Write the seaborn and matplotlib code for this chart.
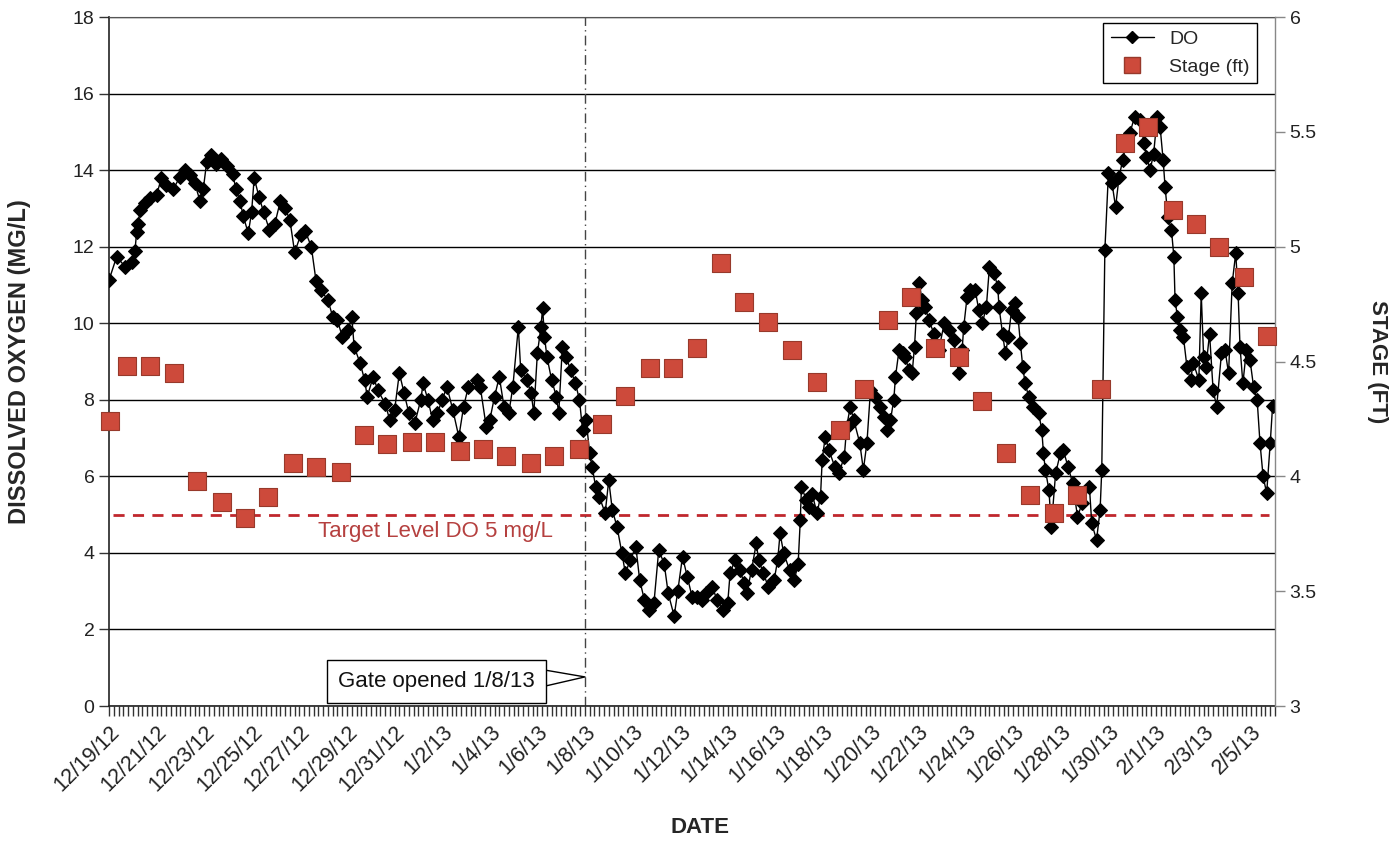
import numpy as np
import pandas as pd
import seaborn as sns
import matplotlib.pyplot as plt
import matplotlib.dates as mdates
from matplotlib.lines import Line2D
from matplotlib.ticker import FixedLocator, FuncFormatter

# Data (days after 12/19/12 00:00)
start = pd.Timestamp("2012-12-19")
end = pd.Timestamp("2013-02-06")
gate_date = pd.Timestamp("2013-01-08")
target_do = 5

do_day = [0.0, 0.32, 0.67, 0.95, 1.09, 1.16, 1.23, 1.3, 1.51, 1.72, 2.0, 2.2, 2.4, 2.7, 2.98,
          3.2, 3.4, 3.6, 3.82, 3.96, 4.1, 4.3, 4.5, 4.7, 4.94, 5.2, 5.33, 5.5, 5.64, 5.85,
          5.99, 6.1, 6.3, 6.5, 6.74, 6.97, 7.2, 7.4, 7.6, 7.8, 8.05, 8.25, 8.5, 8.7, 8.9,
          9.2, 9.4, 9.6, 9.8, 10.05, 10.2, 10.3, 10.55, 10.74, 10.85, 11.1, 11.3, 11.6, 11.8,
          12.0, 12.2, 12.4, 12.6, 12.85, 13.1, 13.2, 13.4, 13.6, 13.8, 14.0, 14.2, 14.45,
          14.7, 14.9, 15.1, 15.45, 15.6, 15.85, 16.0, 16.2, 16.4, 16.6, 16.8, 16.97, 17.2,
          17.3, 17.55, 17.74, 17.85, 18.0, 18.15, 18.22, 18.3, 18.4, 18.6, 18.8, 18.9, 19.05,
          19.2, 19.4, 19.6, 19.77, 19.9, 20.05, 20.2, 20.3, 20.45, 20.6, 20.85, 21.0, 21.15,
          21.35, 21.55, 21.7, 21.9, 22.14, 22.3, 22.5, 22.7, 22.9, 23.1, 23.33, 23.5, 23.75,
          23.9, 24.1, 24.3, 24.5, 24.7, 24.9, 25.1, 25.35, 25.55, 25.8, 26.0, 26.1, 26.3,
          26.5, 26.7, 26.8, 27.0, 27.2, 27.3, 27.5, 27.7, 27.95, 28.1, 28.2, 28.35, 28.6,
          28.8, 28.96, 29.05, 29.1, 29.3, 29.4, 29.55, 29.75, 29.9, 29.97, 30.1, 30.25, 30.5,
          30.67, 30.9, 31.0, 31.15, 31.3, 31.55, 31.7, 31.85, 32.0, 32.2, 32.4, 32.55, 32.7,
          32.84, 32.98, 33.05, 33.2, 33.35, 33.47, 33.6, 33.75, 33.85, 33.93, 34.05, 34.17,
          34.3, 34.45, 34.67, 34.87, 35.1, 35.3, 35.5, 35.7, 35.85, 35.92, 36.06, 36.2, 36.4,
          36.55, 36.7, 36.87, 37.0, 37.2, 37.35, 37.4, 37.55, 37.67, 37.8, 37.93, 38.07, 38.2,
          38.3, 38.4, 38.5, 38.65, 38.85, 39.07, 39.2, 39.27, 39.35, 39.5, 39.6, 39.78, 39.98,
          40.1, 40.3, 40.5, 40.7, 40.9, 41.2, 41.3, 41.5, 41.65, 41.72, 41.85, 42.0, 42.15,
          42.3, 42.45, 42.6, 42.75, 42.9, 43.1, 43.33, 43.5, 43.6, 43.75, 43.9, 44.05, 44.17,
          44.3, 44.38, 44.5, 44.65, 44.75, 44.8, 44.9, 45.0, 45.15, 45.3, 45.45, 45.57, 45.8,
          45.9, 46.0, 46.1, 46.25, 46.4, 46.55, 46.75, 46.9, 47.05, 47.2, 47.35, 47.45, 47.53,
          47.65, 47.8, 47.95, 48.1, 48.25, 48.37, 48.5, 48.65, 48.8, 48.9]

do_mgl = [11.13, 11.74, 11.48, 11.6, 11.9, 12.39, 12.6, 12.96, 13.14, 13.27, 13.35, 13.8, 13.6,
          13.5, 13.83, 14.0, 13.87, 13.66, 13.2, 13.5, 14.2, 14.4, 14.15, 14.3, 14.1, 13.9,
          13.5, 13.2, 12.8, 12.35, 12.9, 13.8, 13.3, 12.9, 12.44, 12.6, 13.2, 13.0, 12.7,
          11.85, 12.3, 12.4, 12.0, 11.1, 10.87, 10.6, 10.17, 10.08, 9.65, 9.82, 10.17, 9.39,
          8.96, 8.52, 8.08, 8.6, 8.25, 7.9, 7.47, 7.73, 8.7, 8.17, 7.65, 7.39, 8.0, 8.43, 8.0,
          7.47, 7.65, 8.0, 8.34, 7.73, 7.03, 7.82, 8.34, 8.52, 8.34, 7.3, 7.47, 8.08, 8.6,
          7.82, 7.65, 8.34, 9.9, 8.78, 8.52, 8.17, 7.65, 9.21, 9.9, 10.39, 9.65, 9.13, 8.52,
          8.08, 7.65, 9.39, 9.13, 8.78, 8.43, 8.0, 7.21, 7.47, 6.6, 6.25, 5.73, 5.47, 5.04,
          5.9, 5.12, 4.68, 4.0, 3.47, 3.81, 4.16, 3.29, 2.77, 2.5, 2.69, 4.07, 3.72, 2.94,
          2.35, 3.0, 3.9, 3.38, 2.86, 2.86, 2.77, 2.94, 3.12, 2.77, 2.5, 2.69, 3.47, 3.81,
          3.55, 3.21, 2.94, 3.55, 4.25, 3.81, 3.47, 3.12, 3.29, 3.81, 4.51, 4.0, 3.55, 3.29,
          3.72, 4.86, 5.73, 5.38, 5.21, 5.55, 5.03, 5.47, 6.43, 7.04, 6.69, 6.25, 6.08, 6.51,
          7.3, 7.82, 7.47, 6.87, 6.17, 6.87, 8.25, 8.08, 7.82, 7.56, 7.21, 7.47, 8.0, 8.6,
          9.3, 9.21, 9.13, 8.78, 8.69, 9.39, 10.26, 11.04, 10.6, 10.43, 10.08, 9.73, 9.3,
          10.0, 9.82, 9.56, 8.69, 9.3, 9.91, 10.69, 10.87, 10.87, 10.35, 10.0, 10.43, 11.48,
          11.3, 10.95, 10.43, 9.73, 9.21, 9.65, 10.35, 10.52, 10.17, 9.48, 8.86, 8.43, 8.08,
          7.82, 7.65, 7.21, 6.6, 6.17, 5.64, 4.68, 6.08, 6.6, 6.69, 6.25, 5.82, 4.95, 5.3,
          5.73, 4.77, 4.34, 5.12, 6.17, 11.91, 13.92, 13.66, 13.04, 13.83, 14.26, 14.7, 14.96,
          15.4, 15.3, 14.7, 14.35, 14.0, 14.43, 15.4, 15.14, 14.26, 13.57, 12.78, 12.43, 11.74,
          10.6, 10.17, 9.82, 9.65, 8.86, 8.52, 8.96, 8.52, 10.78, 9.13, 8.86, 9.73, 8.25,
          7.82, 9.21, 9.3, 8.69, 11.04, 11.83, 10.78, 9.39, 8.43, 9.3, 9.04, 8.34, 8.0, 6.87,
          6.0, 5.56, 6.87, 7.85]

stage_day = [0.04, 0.74, 1.72, 2.73, 3.70, 4.73, 5.70, 6.69, 7.73, 8.71, 9.73, 10.71, 11.69,
             12.73, 13.71, 14.73, 15.71, 16.69, 17.74, 18.72, 19.73, 20.70, 21.68, 22.73,
             23.71, 24.73, 25.70, 26.69, 27.71, 28.69, 29.74, 30.70, 31.72, 32.73, 33.71,
             34.73, 35.71, 36.69, 37.71, 38.69, 39.70, 40.70, 41.68, 42.70, 43.68, 44.70,
             45.68, 46.66, 47.70, 48.65]
stage_ft = [4.24, 4.48, 4.48, 4.45, 3.98, 3.89, 3.82, 3.91, 4.06, 4.04, 4.02, 4.18, 4.14,
            4.15, 4.15, 4.11, 4.12, 4.09, 4.06, 4.09, 4.12, 4.23, 4.35, 4.47, 4.47, 4.56,
            4.93, 4.76, 4.67, 4.55, 4.41, 4.20, 4.38, 4.68, 4.78, 4.56, 4.52, 4.33, 4.10,
            3.92, 3.84, 3.92, 4.38, 5.45, 5.52, 5.16, 5.10, 5.00, 4.87, 4.61]

do_df = pd.DataFrame({"date": start + pd.to_timedelta(do_day, unit="D"), "DO": do_mgl})
stage_df = pd.DataFrame({"date": start + pd.to_timedelta(stage_day, unit="D"), "stage": stage_ft})

sns.set_style("white")
plt.rcParams["font.family"] = ["Liberation Sans", "DejaVu Sans"]

fig = plt.figure(figsize=(13.91, 8.43), dpi=100)
ax = fig.add_axes([0.0784, 0.1625, 0.8382, 0.8173])
ax2 = ax.twinx()

# DO series (left axis)
sns.lineplot(data=do_df, x="date", y="DO", ax=ax, color="black", linewidth=1,
             marker="D", markersize=7.5, markeredgecolor="black", estimator=None,
             sort=False, legend=False, zorder=3)

# stage series (right axis)
sns.scatterplot(data=stage_df, x="date", y="stage", ax=ax2, marker="s", s=150,
                color="#CD4A3B", edgecolor="#97392B", linewidth=0.8, legend=False,
                zorder=4, clip_on=False)

ax.set_xlim(start, end)
ax.set_ylim(0, 18)
ax2.set_ylim(3, 6)

ax.set_yticks(np.arange(0, 19, 2))
ax2.set_yticks(np.arange(3, 6.01, 0.5))
ax2.yaxis.set_major_formatter(FuncFormatter(lambda v, p: f"{v:g}"))
ax.grid(axis="y", color="black", linewidth=1)
ax.grid(axis="x", visible=False)
ax2.grid(False)
ax.set_axisbelow(True)

# date ticks
major = pd.date_range("2012-12-19", "2013-02-05", freq="2D")
minor = pd.date_range(start, end, freq="288min")
ax.xaxis.set_major_locator(FixedLocator(mdates.date2num(major)))
ax.xaxis.set_minor_locator(FixedLocator(mdates.date2num(minor)))
ax.set_xticklabels([f"{d.month}/{d.day}/{d:%y}" for d in major], rotation=45,
                   ha="right", rotation_mode="anchor", fontsize=15.5, color="#222222")

ax.tick_params(axis="x", which="both", direction="out", length=7, width=1,
               color="#333333", bottom=True, pad=4)
ax.tick_params(axis="y", direction="out", length=7, width=1, color="#333333",
               left=True, labelsize=14, labelcolor="#222222")
ax2.tick_params(axis="y", direction="out", length=7, width=1, color="#888888",
                right=True, labelsize=14, labelcolor="#222222")

for s in ["left", "bottom"]:
    ax.spines[s].set_color("#222222")
    ax.spines[s].set_linewidth(1.2)
ax.spines["top"].set_color("#555555")
ax.spines["right"].set_visible(False)
for s in ["left", "bottom", "top"]:
    ax2.spines[s].set_visible(False)
ax2.spines["right"].set_color("#888888")
ax2.spines["right"].set_linewidth(1)

# target level and gate opening
ax.axhline(target_do, xmin=0.003, xmax=0.995, color="#C0272D", linestyle=(0, (4, 3)),
           linewidth=2, zorder=2)
ax.text(mdates.date2num(start + pd.Timedelta(days=8.77)), 4.55, "Target Level DO 5 mg/L",
        color="#B5403F", fontsize=16, va="center", ha="left")
ax.axvline(gate_date, color="#444444", linewidth=1, linestyle=(0, (7, 3, 1, 3)), zorder=2)
ax.annotate("Gate opened 1/8/13", xy=(mdates.date2num(gate_date), 0.76),
            xytext=(mdates.date2num(start + pd.Timedelta(days=13.75)), 0.65),
            ha="center", va="center", fontsize=16, color="#111111",
            bbox=dict(boxstyle="square,pad=0.5", fc="white", ec="black", lw=1),
            arrowprops=dict(arrowstyle="wedge,tail_width=0.7", fc="white", ec="black",
                            lw=1, shrinkA=0, shrinkB=0))

# axis labels
ax.set_xlabel("DATE", fontsize=16, fontweight="bold", va="center")
ax.xaxis.set_label_coords(0.507, -0.177)
ax.set_ylabel("DISSOLVED OXYGEN (MG/L)", fontsize=17, fontweight="bold", va="center")
ax.yaxis.set_label_coords(-0.077, 0.5)
ax2.set_ylabel("STAGE (FT)", fontsize=16, fontweight="bold", rotation=270, va="center")
ax2.yaxis.set_label_coords(1.088, 0.5)

# legend
handles = [Line2D([], [], color="black", lw=1, marker="D", markersize=6.5),
           Line2D([], [], ls="none", marker="s", markersize=11, markerfacecolor="#CD4A3B",
                  markeredgecolor="#97392B")]
leg = ax2.legend(handles, ["DO", "Stage (ft)"], loc="upper right", fontsize=14,
                 frameon=True, fancybox=False, edgecolor="black", framealpha=1,
                 borderaxespad=0.3, handlelength=2.2, bbox_to_anchor=(0.99, 1.0))
leg.get_frame().set_linewidth(1)

fig.savefig("out.png", dpi=100)
